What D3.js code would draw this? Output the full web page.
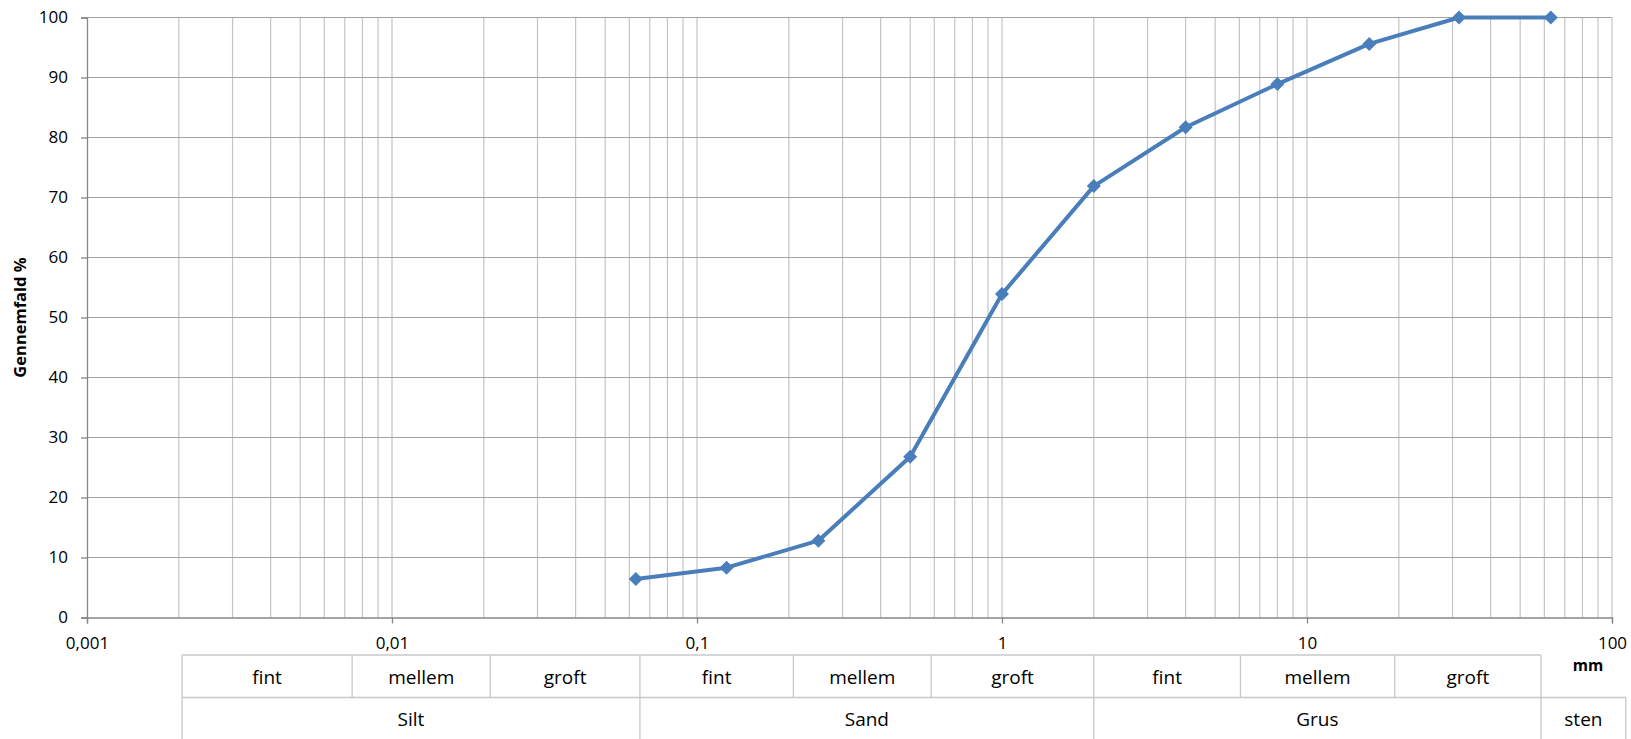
<!DOCTYPE html>
<html>
<head>
<meta charset="utf-8">
<script src="https://cdnjs.cloudflare.com/ajax/libs/d3/7.8.5/d3.min.js"></script>
<style>
    body { margin: 0; background: #fff; }
    svg text { font-family: 'Open Sans', sans-serif; fill: #000; }
</style>
</head>
<body>
<div id="chart"></div>
<script>
// sieve analysis: sieve size (mm) and passing percentage
const sieveSizes = [0.063, 0.125, 0.25, 0.5, 1, 2, 4, 8, 16, 31.5, 63];
const passing = [6.4, 8.3, 12.8, 26.8, 53.9, 71.9, 81.7, 88.9, 95.6, 100, 100];

// axis ticks
const xTicks = [0.001, 0.01, 0.1, 1, 10, 100];
const yTicks = [0, 10, 20, 30, 40, 50, 60, 70, 80, 90, 100];

// fraction table under the axis (cell edges in mm, as drawn)
const subBounds = [0.00205, 0.0074, 0.021, 0.065, 0.207, 0.586, 2, 6.05, 19.4, 58.5];
const subLabels = ['fint', 'mellem', 'groft', 'fint', 'mellem', 'groft', 'fint', 'mellem', 'groft'];
const mainBounds = [0.00205, 0.065, 2, 58.5, 111];
const mainLabels = ['Silt', 'Sand', 'Grus', 'sten'];

const yTitle = 'Gennemfald %';
const unitLabel = 'mm';

class GradingChart {

    constructor(opts) {
        this.element = opts.element;
        this.draw();
    }

    draw() {
        this.totalW = 1631;
        this.totalH = 739;
        this.margin = { top: 17.5, right: 19, bottom: 121.5, left: 87 };
        this.width = this.totalW - this.margin.left - this.margin.right;
        this.height = this.totalH - this.margin.top - this.margin.bottom;

        this.svg = d3.select(this.element).append('svg')
            .attr('width', this.totalW)
            .attr('height', this.totalH);

        this.plot = this.svg.append('g')
            .attr('transform', `translate(${this.margin.left},${this.margin.top})`);

        this.createScales();
        this.addGrid();
        this.addAxes();
        this.addLine();
        this.addTable();
        this.addLabels();
    }

    createScales() {
        this.x = d3.scaleLog()
            .domain([0.001, 100])
            .range([0, this.width]);
        this.y = d3.scaleLinear()
            .domain([0, 100])
            .range([this.height, 0]);
    }

    addGrid() {
        // minor log lines 2..9 in each decade, plus decades
        let vLines = [];
        xTicks.forEach((d, i) => {
            if (i > 0) vLines.push(d);
            if (i < xTicks.length - 1) {
                for (let k = 2; k <= 9; k++) vLines.push(d * k);
            }
        });
        this.plot.append('g').selectAll('line')
            .data(vLines)
            .enter().append('line')
            .attr('x1', d => this.x(d)).attr('x2', d => this.x(d))
            .attr('y1', 0).attr('y2', this.height)
            .attr('stroke', '#c4c4c4')
            .attr('stroke-width', 1.2);

        this.plot.append('g').selectAll('line')
            .data(yTicks.filter(d => d > 0))
            .enter().append('line')
            .attr('x1', 0).attr('x2', this.width)
            .attr('y1', d => this.y(d)).attr('y2', d => this.y(d))
            .attr('stroke', '#a3a3a3')
            .attr('stroke-width', 1.2);
    }

    addAxes() {
        const xAxis = this.plot.append('g')
            .attr('transform', `translate(0,${this.height})`)
            .call(d3.axisBottom(this.x)
                .tickValues(xTicks)
                .tickSize(6)
                .tickPadding(13)
                .tickFormat(d => String(d).replace('.', ',')));
        const yAxis = this.plot.append('g')
            .call(d3.axisLeft(this.y)
                .tickValues(yTicks)
                .tickSize(6)
                .tickPadding(13));

        [xAxis, yAxis].forEach(a => {
            a.select('.domain').attr('stroke', '#868686').attr('stroke-width', 1.3);
            a.selectAll('.tick line').attr('stroke', '#868686').attr('stroke-width', 1.3);
            a.selectAll('.tick text')
                .style('font-family', "'Open Sans', sans-serif")
                .style('font-size', '17px')
                .attr('fill', '#000');
        });
    }

    addLine() {
        const pts = sieveSizes.map((s, i) => ({ size: s, pct: passing[i] }));
        const line = d3.line()
            .x(d => this.x(d.size))
            .y(d => this.y(d.pct));

        this.plot.append('path')
            .datum(pts)
            .attr('d', line)
            .attr('fill', 'none')
            .attr('stroke', '#4a7ebb')
            .attr('stroke-width', 4)
            .attr('stroke-linejoin', 'round');

        this.plot.selectAll('path.marker')
            .data(pts)
            .enter().append('path')
            .attr('class', 'marker')
            .attr('d', d3.symbol().type(d3.symbolSquare).size(98))
            .attr('transform', d => `translate(${this.x(d.size)},${this.y(d.pct)}) rotate(45)`)
            .attr('fill', '#4a7ebb');
    }

    addTable() {
        const left = this.margin.left;
        const row1Top = 655;
        const row2Top = 697.5;
        const bottom = 745;
        const g = this.svg.append('g');
        const X = d => left + this.x(d);

        // horizontal borders
        g.append('line')
            .attr('x1', X(subBounds[0])).attr('x2', X(subBounds[subBounds.length - 1]))
            .attr('y1', row1Top).attr('y2', row1Top);
        g.append('line')
            .attr('x1', X(mainBounds[0])).attr('x2', X(mainBounds[mainBounds.length - 1]))
            .attr('y1', row2Top).attr('y2', row2Top);

        // vertical borders
        g.selectAll('line.sub')
            .data(subBounds)
            .enter().append('line')
            .attr('class', 'sub')
            .attr('x1', X).attr('x2', X)
            .attr('y1', row1Top).attr('y2', row2Top);
        g.selectAll('line.main')
            .data(mainBounds)
            .enter().append('line')
            .attr('class', 'main')
            .attr('x1', X).attr('x2', X)
            .attr('y1', row2Top).attr('y2', bottom);

        g.selectAll('line')
            .attr('stroke', '#c8c8c8')
            .attr('stroke-width', 1.3);

        g.selectAll('text.sub')
            .data(subLabels)
            .enter().append('text')
            .attr('class', 'sub')
            .attr('x', (d, i) => (X(subBounds[i]) + X(subBounds[i + 1])) / 2)
            .attr('y', row1Top + 28.5)
            .attr('text-anchor', 'middle')
            .style('font-size', '19px')
            .text(d => d);

        g.selectAll('text.main')
            .data(mainLabels)
            .enter().append('text')
            .attr('class', 'main')
            .attr('x', (d, i) => (X(mainBounds[i]) + X(mainBounds[i + 1])) / 2)
            .attr('y', row2Top + 28.3)
            .attr('text-anchor', 'middle')
            .style('font-size', '19px')
            .text(d => d);
    }

    addLabels() {
        // y title
        this.svg.append('text')
            .attr('transform', `translate(26,${this.margin.top + this.height / 2}) rotate(-90)`)
            .attr('text-anchor', 'middle')
            .style('font-size', '16.5px')
            .style('font-weight', 'bold')
            .text(yTitle);

        // unit
        this.svg.append('text')
            .attr('x', 1588)
            .attr('y', 671)
            .attr('text-anchor', 'middle')
            .style('font-size', '15.5px')
            .style('font-weight', 'bold')
            .text(unitLabel);
    }
}

new GradingChart({ element: '#chart' });
</script>
</body>
</html>
